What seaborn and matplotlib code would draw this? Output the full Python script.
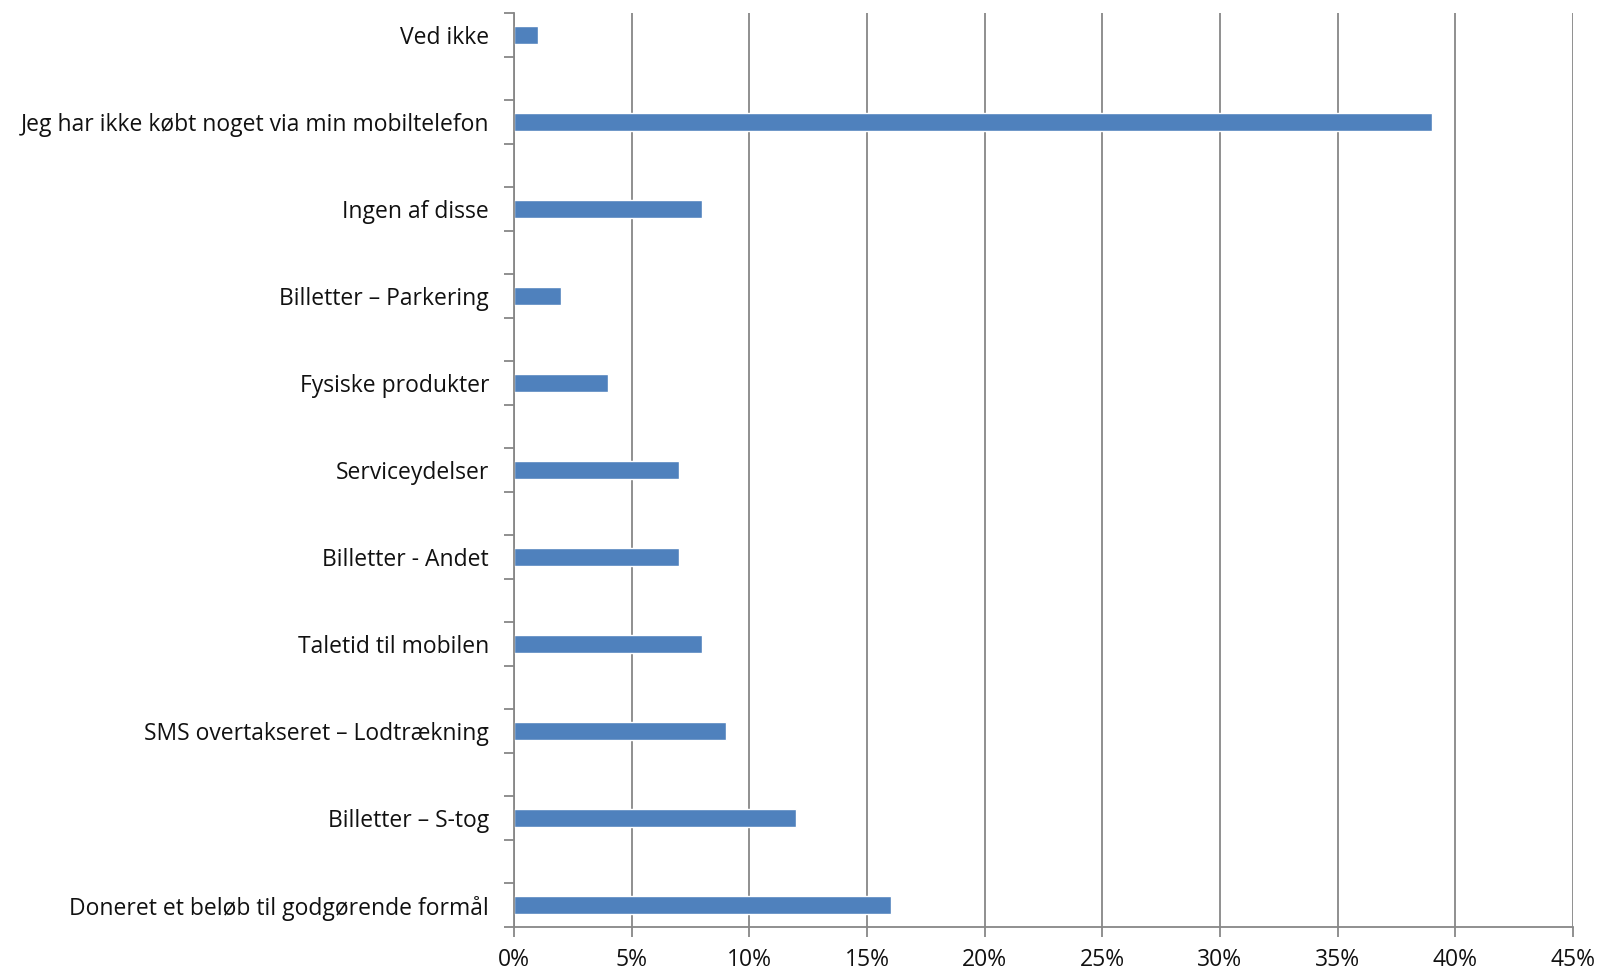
import matplotlib
matplotlib.use("Agg")
import matplotlib.pyplot as plt
import seaborn as sns
import pandas as pd
import numpy as np

categories = [
    "Ved ikke",
    "Jeg har ikke købt noget via min mobiltelefon",
    "Ingen af disse",
    "Billetter – Parkering",
    "Fysiske produkter",
    "Serviceydelser",
    "Billetter - Andet",
    "Taletid til mobilen",
    "SMS overtakseret – Lodtrækning",
    "Billetter – S-tog",
    "Doneret et beløb til godgørende formål",
]
values = [1, 39, 8, 2, 4, 7, 7, 8, 9, 12, 16]
x_ticks = [0, 5, 10, 15, 20, 25, 30, 35, 40, 45]
x_labels = [f"{t}%" for t in x_ticks]

# The source chart has an empty category slot between each pair of bars
order = []
for i, c in enumerate(categories):
    order.append(c)
    if i < len(categories) - 1:
        order.append(" " * (i + 1))

sns.set_theme(style="white")
plt.rcParams["font.family"] = ["Open Sans", "DejaVu Sans"]

df = pd.DataFrame({"cat": categories, "val": values})

fig = plt.figure(figsize=(16, 9.71), dpi=100)
ax = fig.add_axes([514 / 1600, 1 - 927 / 971, (1573 - 514) / 1600, (927 - 13) / 971])

sns.barplot(data=df, x="val", y="cat", orient="h", color="#4F81BD",
            saturation=1, width=0.42, ax=ax, order=order)

n = len(order)
ax.set_xlim(0, 45)
ax.set_ylim(n - 0.5, -0.5)
ax.set_xticks(x_ticks)
ax.set_xticklabels(x_labels)
ax.set_xlabel("")
ax.set_ylabel("")

ax.grid(axis="x", color="#878787", linewidth=1.3)
ax.set_axisbelow(True)
for s in ["top", "right"]:
    ax.spines[s].set_visible(False)
for s in ["left", "bottom"]:
    ax.spines[s].set_color("#878787")
    ax.spines[s].set_linewidth(1.3)

ax.set_yticks(np.arange(-0.5, n, 1.0), minor=True)
ax.tick_params(axis="y", which="major", length=0, pad=18, labelsize=16.5, labelcolor="#111111")
ax.tick_params(axis="y", which="minor", length=7, width=1.3, color="#878787", left=True)
ax.tick_params(axis="x", which="major", length=7, width=1.3, color="#878787", bottom=True,
               pad=8, labelsize=16.5, labelcolor="#111111")

fig.savefig("out.png", dpi=100, facecolor="white")
